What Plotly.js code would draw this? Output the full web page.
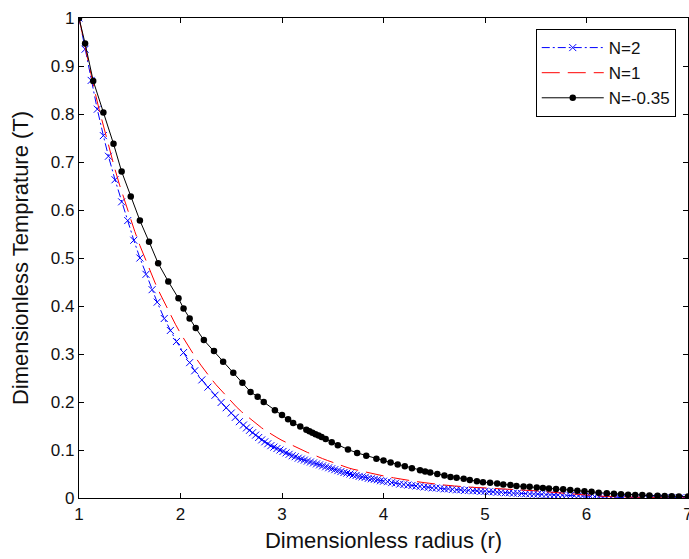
<!DOCTYPE html>
<html>
<head>
<meta charset="utf-8">
<script src="https://cdn.plot.ly/plotly-3.0.1.min.js"></script>
<style>html,body{margin:0;padding:0;background:#fff;}#chart{width:689px;height:559px;}</style>
</head>
<body>
<div id="chart"></div>
<script>
// N = 2 (blue, dash-dot with x markers)
const rBlue = [1.00,1.06,1.12,1.18,1.24,1.29,1.355,1.42,1.48,1.54,1.60,1.66,1.72,1.77,1.84,1.90,1.96,2.03,2.09,2.14,2.21,2.27,2.34,
  2.40,2.45,2.50,2.54,2.58,2.62,2.65,2.68,2.71,2.74,2.77,2.80,2.83,2.86,2.89,2.92,2.95,2.98,3.01,3.04,3.07,3.10,3.13,3.16,3.19,3.22,3.25,3.28,3.31,3.34,3.37,3.40,3.43,3.46,3.49,3.52,3.55,3.58,3.61,3.64,3.67,3.70,3.73,3.76,3.79,3.82,3.85,3.88,3.91,3.94,3.97,4.00,
  4.04,4.08,4.12,4.16,4.20,4.24,4.28,4.32,4.36,4.40,4.44,4.48,4.52,4.56,4.60,4.64,4.68,4.72,4.76,4.80,4.84,4.88,4.92,4.96,5.00,
  5.04,5.08,5.12,5.16,5.20,5.24,5.28,5.32,5.36,5.40,5.44,5.48,5.52,5.56,5.60,5.64,5.68,5.72,5.76,5.80,5.84,5.88,5.92,5.96,6.00,
  6.04,6.08,6.12,6.16,6.20,6.24,6.28,6.32,6.36,6.40,6.44,6.48,6.52,6.56,6.60,6.64,6.68,6.72,6.76,6.80,6.84,6.88,6.92,6.96,7.00];
const tBlue = [1.000,0.935,0.870,0.810,0.755,0.712,0.663,0.617,0.578,0.537,0.500,0.466,0.434,0.408,0.374,0.349,0.326,0.303,0.282,0.265,0.246,0.231,0.214,
  0.199,0.188,0.177,0.168,0.159,0.152,0.146,0.141,0.136,0.131,0.126,0.121,0.117,0.113,0.109,0.106,0.103,0.100,0.097,0.094,0.091,0.088,0.086,0.083,0.081,0.079,0.077,0.075,0.073,0.071,0.069,0.067,0.065,0.063,0.061,0.059,0.057,0.055,0.053,0.052,0.050,0.048,0.047,0.045,0.044,0.043,0.041,0.040,0.039,0.038,0.036,0.035,
  0.034,0.032,0.031,0.029,0.028,0.027,0.026,0.025,0.024,0.023,0.022,0.021,0.021,0.020,0.019,0.019,0.018,0.017,0.017,0.016,0.016,0.015,0.015,0.014,0.014,
  0.013,0.013,0.012,0.012,0.011,0.011,0.010,0.010,0.0095,0.009,0.0085,0.008,0.008,0.0075,0.007,0.0068,0.0065,0.006,0.0057,0.0054,0.005,0.0047,0.0043,0.004,0.0036,
  0.0032,0.0028,0.0024,0.002,0.0017,0.0014,0.0011,0.0009,0.0008,0.0007,0.0006,0.0006,0.0005,0.0005,0.0004,0.0004,0.0003,0.0003,0.0003,0.0002,0.0002,0.0002,0.0001,0.0001,0.0000];

// N = 1 (red, dashed)
const rRed = [1.00,1.05,1.10,1.15,1.20,1.25,1.30,1.35,1.40,1.45,1.50,1.55,1.60,1.65,1.70,1.75,1.80,1.85,1.90,1.95,2.00,
  2.05,2.10,2.15,2.20,2.25,2.30,2.35,2.40,2.45,2.50,2.55,2.60,2.65,2.70,2.75,2.80,2.85,2.90,2.95,3.00,
  3.05,3.10,3.15,3.20,3.25,3.30,3.35,3.40,3.45,3.50,3.55,3.60,3.65,3.70,3.80,3.90,4.00,4.10,4.20,4.30,4.40,4.50,
  4.60,4.70,4.80,4.90,5.00,5.10,5.20,5.30,5.40,5.50,5.60,5.70,5.80,5.90,6.00,6.10,6.20,6.30,6.40,6.50,6.60,6.70,6.80,6.90,7.00];
const tRed = [1.000,0.948,0.899,0.852,0.808,0.766,0.726,0.688,0.652,0.618,0.586,0.555,0.526,0.499,0.473,0.448,0.425,0.403,0.382,0.362,0.343,
  0.325,0.308,0.292,0.277,0.262,0.249,0.236,0.224,0.212,0.201,0.190,0.180,0.171,0.162,0.154,0.146,0.139,0.132,0.126,0.120,
  0.115,0.109,0.104,0.099,0.095,0.091,0.086,0.082,0.078,0.074,0.070,0.066,0.063,0.060,0.055,0.050,0.046,0.042,0.038,0.035,0.032,0.029,
  0.027,0.025,0.023,0.022,0.021,0.020,0.019,0.018,0.016,0.015,0.013,0.011,0.009,0.007,0.006,0.0045,0.003,0.0022,0.0016,0.0012,0.0009,0.0006,0.0004,0.0002,0.0000];

// N = -0.35 (black, solid with dot markers)
const rBlack = [1.00,1.06,1.14,1.24,1.34,1.42,1.51,1.60,1.69,1.78,1.88,1.98,2.03,2.09,2.15,2.23,2.33,2.42,2.52,2.61,2.69,2.76,2.82,2.93,3.00,
  3.06,3.11,3.18,3.24,3.27,3.30,3.33,3.36,3.39,3.43,3.49,3.55,3.65,3.74,3.83,3.93,4.00,4.07,4.14,4.21,4.28,4.36,4.41,4.46,4.53,4.60,
  4.66,4.72,4.79,4.85,4.92,4.98,5.05,5.12,5.18,5.25,5.31,5.38,5.44,5.51,5.57,5.63,5.70,5.77,5.84,5.91,5.98,6.05,6.12,6.20,
  6.27,6.34,6.41,6.48,6.55,6.62,6.70,6.77,6.84,6.91,7.00];
const tBlack = [1.000,0.947,0.869,0.803,0.738,0.680,0.628,0.578,0.534,0.489,0.451,0.416,0.395,0.374,0.354,0.329,0.306,0.284,0.261,0.240,0.221,0.211,0.200,0.183,0.173,
  0.164,0.156,0.149,0.142,0.139,0.136,0.133,0.130,0.127,0.123,0.116,0.110,0.101,0.094,0.088,0.082,0.078,0.074,0.070,0.066,0.062,0.058,0.055,0.053,0.050,0.047,
  0.044,0.042,0.040,0.0375,0.035,0.033,0.032,0.030,0.028,0.027,0.025,0.024,0.0235,0.022,0.021,0.020,0.019,0.018,0.0167,0.015,0.014,0.013,0.011,0.0098,
  0.009,0.008,0.007,0.0065,0.006,0.005,0.0045,0.004,0.0035,0.003,0.003];

const xTickVals = [1,2,3,4,5,6,7];
const yTickVals = [0,0.1,0.2,0.3,0.4,0.5,0.6,0.7,0.8,0.9,1];

const FONT = '"Liberation Sans", Arial, sans-serif';

const traces = [
  {x: rBlue, y: tBlue, name: 'N=2', type: 'scatter', mode: 'lines+markers',
   line: {color: '#0000ff', width: 1, dash: '8px,3px,2px,3px'},
   marker: {symbol: 'x-thin', size: 7, line: {color: '#0000ff', width: 1}, color: '#0000ff'}},
  {x: rRed, y: tRed, name: 'N=1', type: 'scatter', mode: 'lines',
   line: {color: '#ff0000', width: 1, dash: '18px,8px'}},
  {x: rBlack, y: tBlack, name: 'N=-0.35', type: 'scatter', mode: 'lines+markers',
   line: {color: '#000000', width: 1},
   marker: {symbol: 'circle', size: 6.5, color: '#000000'}}
];

const axisCommon = {
  showline: true, linecolor: '#000', linewidth: 1.2, mirror: 'allticks',
  ticks: 'inside', ticklen: 5, tickwidth: 1, tickcolor: '#000',
  showgrid: false, zeroline: false, ticklabeloverflow: 'allow',
  tickfont: {family: FONT, size: 17, color: '#111'}
};

const layout = {
  width: 689, height: 559,
  margin: {l: 79, r: 1, t: 18, b: 61},
  paper_bgcolor: '#fff', plot_bgcolor: '#fff',
  showlegend: true,
  legend: {x: 0.75, y: 0.977, xanchor: 'left', yanchor: 'top',
    bgcolor: '#fff', bordercolor: '#000', borderwidth: 1,
    font: {family: FONT, size: 17, color: '#111'}, itemwidth: 62},
  xaxis: Object.assign({}, axisCommon, {range: [1, 7], tickvals: xTickVals, ticktext: xTickVals.map(String),
    title: {text: 'Dimensionless radius (r)', font: {family: FONT, size: 22, color: '#111'}, standoff: 10}}),
  yaxis: Object.assign({}, axisCommon, {range: [0, 1], tickvals: yTickVals, ticktext: yTickVals.map(String),
    title: {text: 'Dimensionless Temprature (T)', font: {family: FONT, size: 22, color: '#111'}, standoff: 16}})
};

Plotly.newPlot('chart', traces, layout, {staticPlot: true});
</script>
</body>
</html>
